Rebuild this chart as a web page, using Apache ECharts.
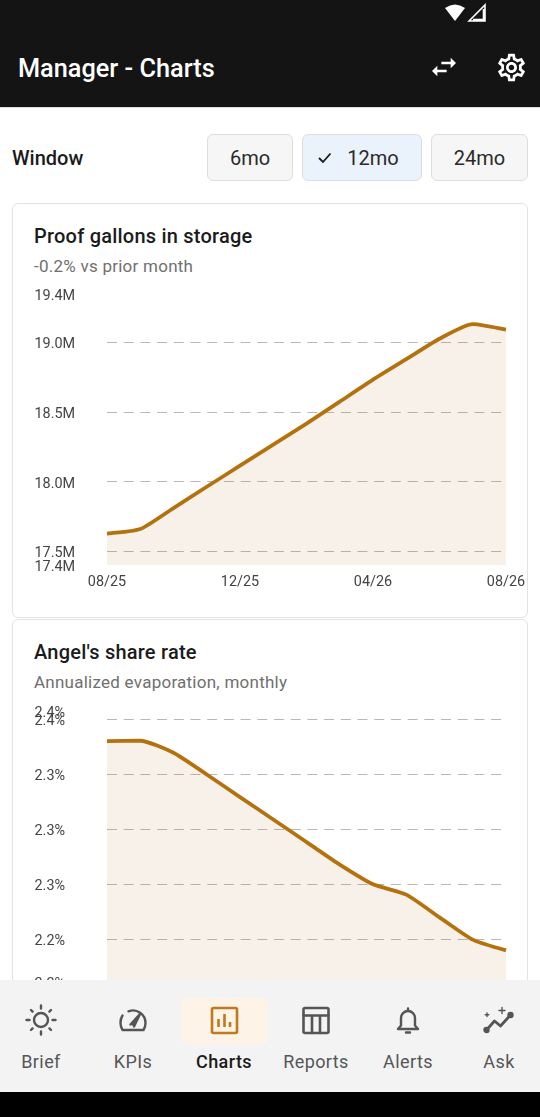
<!DOCTYPE html>
<html>
<head>
<meta charset="utf-8">
<title>Manager - Charts</title>
<script src="https://cdn.jsdelivr.net/npm/echarts@6/dist/echarts.min.js"></script>
<style>
  * { box-sizing: border-box; }
  html, body { margin: 0; padding: 0; background: #fff; }
  body { width: 540px; height: 1117px; overflow: hidden; position: relative; font-family: Roboto, sans-serif; color: #1b1b1b; }
  .abs { position: absolute; white-space: nowrap; }
  #appbar { left: 0; top: 0; width: 540px; height: 108px; background: #141414; border-bottom: 1px solid #ddd; }
  #appTitle { left: 18px; top: 53px; font-size: 25.3px; line-height: 32px; font-weight: 500; color: #fff; }
  #windowLabel { left: 12px; top: 145px; font-size: 20px; line-height: 26px; font-weight: 500; }
  .chip { top: 134px; height: 47px; border: 1px solid #dedede; border-radius: 6px; background: #f6f6f6; font-size: 20px; line-height: 46px; text-align: center; color: #2a2a2a; }
  .chip.on { background: #eaf2fc; }
  .card { left: 12px; width: 516px; background: #fff; border: 1.5px solid #e3e3e3; border-radius: 6px; }
  .cardTitle { left: 34px; font-size: 20px; line-height: 26px; font-weight: 500; letter-spacing: .22px; }
  .cardSub { left: 34px; font-size: 17px; line-height: 22px; color: #6f6f6f; letter-spacing: .25px; }
  .chart { left: 13px; width: 514px; }
  #nav { left: 0; top: 980px; width: 540px; height: 112px; background: #f3f3f3; }
  #navOn { left: 181px; top: 998px; width: 87px; height: 46px; border-radius: 6px; background: #fdf3e6; }
  .navIcon { top: 1004px; width: 32px; height: 32px; margin-left: -16px; fill: none; stroke: #555; stroke-width: 2.4; stroke-linecap: round; stroke-linejoin: round; }
  .navText { top: 1050px; width: 92px; margin-left: -46px; text-align: center; font-size: 18px; line-height: 24px; color: #565656; letter-spacing: .4px; }
  #bottomBar { left: 0; top: 1092px; width: 540px; height: 25px; background: #000; }
</style>
</head>
<body>
<div class="abs card" style="top:203px;height:415px"></div>
<div class="abs card" style="top:619px;height:420px"></div>
<div class="abs cardTitle" style="top:223px">Proof gallons in storage</div>
<div class="abs cardSub" style="top:255px">-0.2% vs prior month</div>
<div class="abs cardTitle" style="top:639px">Angel's share rate</div>
<div class="abs cardSub" style="top:671px">Annualized evaporation, monthly</div>
<div class="abs chart" id="storageChart" style="top:283px;height:327px"></div>
<div class="abs chart" id="angelChart" style="top:700px;height:327px"></div>

<div class="abs" id="appbar"></div>
<svg class="abs" style="left:444px;top:2px" width="44" height="20" viewBox="0 0 44 20">
  <path d="M1 6 Q11 -1 21 6 L11 19 Z" fill="#fff"/>
  <path d="M25 19 L41 3 V19 Z M29 17.5 H39.5 V7" fill="none" stroke="#fff" stroke-width="1.6"/>
</svg>
<div class="abs" id="appTitle">Manager - Charts</div>
<svg class="abs" style="left:428px;top:51px" width="32" height="32" viewBox="0 0 24 24" fill="#fff"><path d="M6.99 11L3 15l3.99 4v-3H14v-2H6.99v-3zM21 9l-3.99-4v3H10v2h7.01v3L21 9z"/></svg>
<svg class="abs" style="left:495px;top:51px" width="33" height="33" viewBox="0 0 24 24" fill="#fff"><path d="M19.43 12.98c.04-.32.07-.64.07-.98 0-.34-.03-.66-.07-.98l2.11-1.65c.19-.15.24-.42.12-.64l-2-3.46c-.09-.16-.26-.25-.44-.25-.06 0-.12.01-.17.03l-2.49 1c-.52-.4-1.08-.73-1.69-.98l-.38-2.65C14.46 2.18 14.25 2 14 2h-4c-.25 0-.46.18-.49.42l-.38 2.65c-.61.25-1.17.59-1.69.98l-2.49-1c-.06-.02-.12-.03-.18-.03-.17 0-.34.09-.43.25l-2 3.46c-.13.22-.07.49.12.64l2.11 1.65c-.04.32-.07.65-.07.98 0 .33.03.66.07.98l-2.11 1.65c-.19.15-.24.42-.12.64l2 3.46c.09.16.26.25.44.25.06 0 .12-.01.17-.03l2.49-1c.52.4 1.08.73 1.69.98l.38 2.65c.03.24.24.42.49.42h4c.25 0 .46-.18.49-.42l.38-2.65c.61-.25 1.17-.59 1.69-.98l2.49 1c.06.02.12.03.18.03.17 0 .34-.09.43-.25l2-3.46c.12-.22.07-.49-.12-.64l-2.11-1.65zm-1.98-1.71c.04.31.05.52.05.73 0 .21-.02.43-.05.73l-.14 1.13.89.7 1.08.84-.7 1.21-1.27-.51-1.04-.42-.9.68c-.43.32-.84.56-1.25.73l-1.06.43-.16 1.13-.2 1.35h-1.4l-.19-1.35-.16-1.13-1.06-.43c-.43-.18-.83-.41-1.23-.71l-.91-.7-1.06.43-1.27.51-.7-1.21 1.08-.84.89-.7-.14-1.13c-.03-.31-.05-.54-.05-.74s.02-.43.05-.73l.14-1.13-.89-.7-1.08-.84.7-1.21 1.27.51 1.04.42.9-.68c.43-.32.84-.56 1.25-.73l1.06-.43.16-1.13.2-1.35h1.39l.19 1.35.16 1.13 1.06.43c.43.18.83.41 1.23.71l.91.7 1.06-.43 1.27-.51.7 1.21-1.07.85-.89.7.14 1.13zM12 8c-2.21 0-4 1.79-4 4s1.79 4 4 4 4-1.79 4-4-1.79-4-4-4zm0 6c-1.1 0-2-.9-2-2s.9-2 2-2 2 .9 2 2-.9 2-2 2z"/></svg>

<div class="abs" id="windowLabel">Window</div>
<div class="abs chip" style="left:207px;width:86px">6mo</div>
<div class="abs chip on" style="left:302px;width:120px;padding-left:22px">12mo</div>
<svg class="abs" style="left:317px;top:150px" width="15" height="15" viewBox="0 0 15 15"><path d="M2 8 L6 12 L13.5 3.5" fill="none" stroke="#1b1b1b" stroke-width="1.8"/></svg>
<div class="abs chip" style="left:431px;width:97px">24mo</div>

<div class="abs" id="nav"></div>
<div class="abs" id="navOn"></div>
<svg class="abs navIcon" style="left:41px" viewBox="0 0 32 32"><circle cx="16" cy="16" r="7"/><path d="M16 1.5v3M16 27.5v3M1.5 16h3M27.5 16h3M6 6l1.6 1.6M24.4 24.4L26 26M26 6l-1.6 1.6M7.6 24.4L6 26"/></svg>
<svg class="abs navIcon" style="left:133px" viewBox="0 0 32 32"><path d="M5.5 26h21c1.3-2 2-4.5 2-7a12.5 12.5 0 0 0-17-11.7M5.5 11.5A12.5 12.5 0 0 0 3.500 19c0 2.500.7 5 2 7"/><path d="M13.500 20.500L23 10l-6 12.500" fill="#555"/></svg>
<svg class="abs navIcon" style="left:224px;stroke:#bf7a1e" viewBox="0 0 32 32"><rect x="4" y="4" width="25" height="25" rx="1.5" stroke-width="2.6"/><path d="M10.5 15v8M16.500 10v13M22 18v5" stroke-width="2.6" stroke-linecap="butt"/></svg>
<svg class="abs navIcon" style="left:316px" viewBox="0 0 32 32"><rect x="3.500" y="4" width="25" height="25" rx="1.5" stroke-width="2.6"/><path d="M3.500 11.500h25M12 11.500V29M20 11.500V29" stroke-width="2.6"/></svg>
<svg class="abs navIcon" style="left:408px" viewBox="0 0 32 32"><path d="M6 25h20l-3-3.500V14a7 7 0 0 0-14 0v7.500zM16 4.500V7M14 28.500h4" stroke-width="2.400"/></svg>
<svg class="abs navIcon" style="left:499px" viewBox="0 0 32 32"><path d="M3.500 26l8-9 6 5 10-11" stroke-width="2.800"/><circle cx="3.500" cy="26" r="2" fill="#555"/><circle cx="27.500" cy="11" r="2" fill="#555"/><path d="M19 3.500v6M16 6.500h6M4 9v3.500M2.200 10.800h3.600" stroke-width="1.400"/></svg>
<div class="abs navText" style="left:41px">Brief</div>
<div class="abs navText" style="left:133px">KPIs</div>
<div class="abs navText" style="left:224px;color:#1b1b1b;font-weight:500">Charts</div>
<div class="abs navText" style="left:316px">Reports</div>
<div class="abs navText" style="left:408px">Alerts</div>
<div class="abs navText" style="left:499px">Ask</div>
<div class="abs" id="bottomBar"></div>

<script>
// data
var months = ['08/25','09/25','10/25','11/25','12/25','01/26','02/26','03/26','04/26','05/26','06/26','07/26','08/26'];
var storageValues = [17.626,17.658,17.809,17.962,18.113,18.264,18.415,18.573,18.731,18.878,19.025,19.13,19.09];
var storageTicks = [17.5,18.0,18.5,19.0];
var storageMin = 17.4;
var storageMax = 19.35;
var angelValues = [2.364,2.3643,2.3556,2.3398,2.3234,2.3071,2.2907,2.2743,2.260,2.2525,2.236,2.2198,2.212];
var angelTicks = [2.22,2.26,2.30,2.34,2.38];
var angelMin = 2.189;
var angelMax = 2.3863;

function drawTrend(id, values, ticks, yMin, yMax, suffix) {
    var chart = echarts.init(document.getElementById(id));
    var yLabel = {
        color: '#444',
        fontSize: 14.4,
        align: 'left',
        verticalAlign: 'top',
        lineHeight: 5,
        margin: 72.5,
        hideOverlap: false,
        formatter: function (v) {
            return v.toFixed(1) + suffix;
        }
    };
    chart.setOption({
        animation: false,
        textStyle: {fontFamily: 'Roboto'},
        grid: {left: 94, top: 10.5, width: 399, height: 271.5, outerBoundsMode: 'none'},
        xAxis: {
            type: 'category',
            boundaryGap: false,
            data: months,
            axisLine: {show: false},
            axisTick: {show: false},
            axisLabel: {
                interval: 3,
                color: '#444',
                fontSize: 14.4,
                margin: 10,
                hideOverlap: false
            }
        },
        yAxis: [
            {
                type: 'value',
                min: yMin,
                max: yMax,
                axisLine: {show: false},
                axisTick: {show: false, customValues: ticks},
                splitLine: {
                    show: true,
                    lineStyle: {color: '#b8b8b8', width: 1, type: [10, 6.7]}
                },
                axisLabel: Object.assign({customValues: [yMin].concat(ticks), showMinLabel: true}, yLabel)
            },
            {
                // the axis top gets its own label, the first axis would drop it as overlapping
                type: 'value',
                position: 'left',
                min: yMin,
                max: yMax,
                axisLine: {show: false},
                axisTick: {show: false},
                splitLine: {show: false},
                axisLabel: Object.assign({customValues: [yMax]}, yLabel)
            }
        ],
        series: [{
            type: 'line',
            data: values,
            smooth: 0.2,
            symbol: 'none',
            lineStyle: {color: '#b4720f', width: 3.8},
            areaStyle: {color: 'rgba(184,117,26,0.14)'}
        }]
    });
    return chart;
}

drawTrend('storageChart', storageValues, storageTicks, storageMin, storageMax, 'M');
drawTrend('angelChart', angelValues, angelTicks, angelMin, angelMax, '%');
</script>
</body>
</html>
